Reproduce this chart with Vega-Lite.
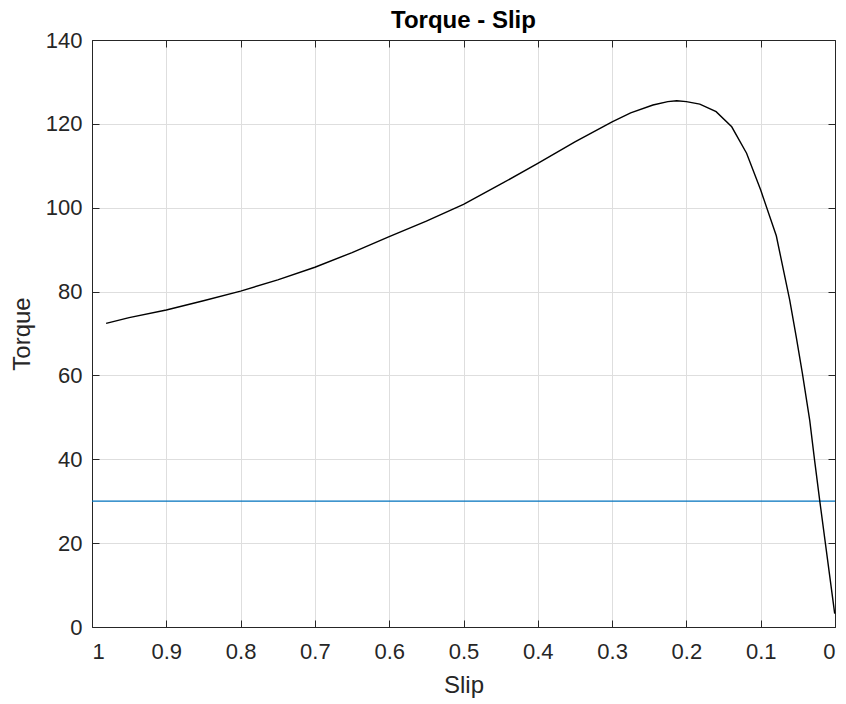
{
  "$schema": "https://vega.github.io/schema/vega-lite/v6.json",
  "autosize": "none",
  "width": 743,
  "height": 587,
  "padding": {"left": 92, "top": 40, "right": 11, "bottom": 77},
  "background": "#ffffff",
  "title": {"text": "Torque - Slip", "fontSize": 24, "fontWeight": "bold", "color": "#000000", "font": "Liberation Sans", "anchor": "middle", "baseline": "alphabetic", "offset": -23},
  "datasets": {
    "curve": [
      {"slip": 0.981, "torque": 72.4},
      {"slip": 0.95, "torque": 73.8},
      {"slip": 0.9, "torque": 75.6},
      {"slip": 0.85, "torque": 77.8},
      {"slip": 0.8, "torque": 80.1},
      {"slip": 0.75, "torque": 82.8},
      {"slip": 0.7, "torque": 85.8},
      {"slip": 0.65, "torque": 89.3},
      {"slip": 0.6, "torque": 93.1},
      {"slip": 0.55, "torque": 96.8},
      {"slip": 0.5, "torque": 100.8},
      {"slip": 0.45, "torque": 105.6},
      {"slip": 0.4, "torque": 110.6},
      {"slip": 0.35, "torque": 115.7},
      {"slip": 0.3, "torque": 120.5},
      {"slip": 0.275, "torque": 122.6},
      {"slip": 0.245, "torque": 124.5},
      {"slip": 0.225, "torque": 125.3},
      {"slip": 0.213, "torque": 125.5},
      {"slip": 0.2, "torque": 125.3},
      {"slip": 0.182, "torque": 124.7},
      {"slip": 0.16, "torque": 122.9},
      {"slip": 0.139, "torque": 119.3},
      {"slip": 0.119, "torque": 113.0},
      {"slip": 0.1, "torque": 104.2},
      {"slip": 0.079, "torque": 93.3},
      {"slip": 0.061, "torque": 78.0},
      {"slip": 0.052, "torque": 69.0},
      {"slip": 0.044, "torque": 60.6},
      {"slip": 0.034, "torque": 49.3},
      {"slip": 0.0275, "torque": 39.8},
      {"slip": 0.0206, "torque": 30.2},
      {"slip": 0.0004, "torque": 3.2}
    ],
    "load": [
      {"slip": 1, "torque": 30},
      {"slip": 0, "torque": 30}
    ]
  },
  "layer": [
    {
      "data": {"name": "load"},
      "mark": {"type": "line", "color": "#0072BD", "strokeWidth": 1.2},
      "encoding": {
        "x": {"field": "slip", "type": "quantitative", "scale": {"domain": [0, 1], "reverse": true, "nice": false},
              "axis": {"orient": "top", "labels": false, "grid": false, "title": null, "values": [0, 0.1, 0.2, 0.3, 0.4, 0.5, 0.6, 0.7, 0.8, 0.9, 1], "tickSize": -7}},
        "y": {"field": "torque", "type": "quantitative", "scale": {"domain": [0, 140], "nice": false},
              "axis": {"orient": "right", "labels": false, "grid": false, "title": null, "values": [0, 20, 40, 60, 80, 100, 120, 140], "tickSize": -7}}
      }
    },
    {
      "data": {"name": "curve"},
      "mark": {"type": "line", "color": "#000000", "strokeWidth": 1.4},
      "encoding": {
        "x": {"field": "slip", "type": "quantitative", "scale": {"domain": [0, 1], "reverse": true, "nice": false},
              "axis": {"orient": "bottom", "title": "Slip", "grid": true, "values": [0, 0.1, 0.2, 0.3, 0.4, 0.5, 0.6, 0.7, 0.8, 0.9, 1], "format": ".1~f", "tickSize": -7, "labelPadding": 21, "titlePadding": 11}},
        "y": {"field": "torque", "type": "quantitative", "scale": {"domain": [0, 140], "nice": false},
              "axis": {"orient": "left", "title": "Torque", "grid": true, "values": [0, 20, 40, 60, 80, 100, 120, 140], "tickSize": -7, "labelPadding": 17, "titlePadding": 11}}
      }
    }
  ],
  "resolve": {"axis": {"x": "independent", "y": "independent"}},
  "config": {
    "font": "Liberation Sans",
    "view": {"stroke": null},
    "axis": {
      "domainColor": "#262626",
      "domainWidth": 1,
      "tickColor": "#262626",
      "tickWidth": 1,
      "labelColor": "#262626",
      "titleColor": "#262626",
      "gridColor": "#dedede",
      "gridWidth": 1,
      "labelFont": "Liberation Sans",
      "titleFont": "Liberation Sans",
      "labelFontSize": 22,
      "titleFontSize": 24,
      "titleFontWeight": "normal"
    }
  }
}
